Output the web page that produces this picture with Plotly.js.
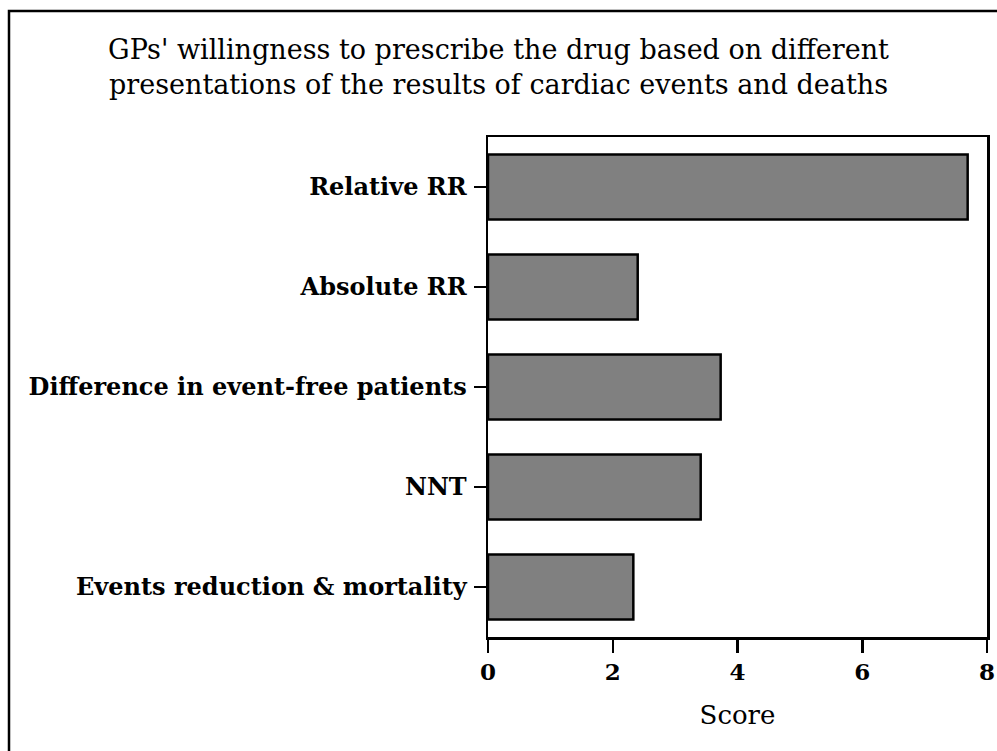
<!DOCTYPE html>
<html>
<head>
<meta charset="utf-8">
<script src="https://cdn.plot.ly/plotly-3.0.1.min.js"></script>
<style>
html,body{margin:0;padding:0;background:#fff;}
#chart{width:997px;height:751px;}
</style>
</head>
<body>
<div id="chart"></div>
<script>
const categories = ["Relative RR", "Absolute RR", "Difference in event-free patients", "NNT", "Events reduction & mortality"];
const scores = [7.69, 2.40, 3.73, 3.41, 2.33];
const xTickValues = [0, 2, 4, 6, 8];

const FONT = "'DejaVu Serif', 'Liberation Serif', serif";

const trace = {
  type: 'bar',
  orientation: 'h',
  y: categories,
  x: scores,
  width: 0.65,
  marker: {color: '#808080', line: {color: '#000000', width: 2.5}},
  hoverinfo: 'none'
};

const layout = {
  width: 997,
  height: 751,
  margin: {l: 488, r: 10, t: 137, b: 114},
  paper_bgcolor: '#ffffff',
  plot_bgcolor: '#ffffff',
  showlegend: false,
  font: {family: FONT, color: '#000000'},
  title: {
    text: "GPs' willingness to prescribe the drug based on different<br>presentations of the results of cardiac events and deaths",
    font: {family: FONT, size: 27, color: '#000000'},
    x: 0.5, xref: 'container', xanchor: 'center',
    y: 0.921, yref: 'container', yanchor: 'top'
  },
  xaxis: {
    range: [0, 8],
    tickvals: xTickValues,
    ticktext: xTickValues.map(String),
    showgrid: false,
    zeroline: false,
    showline: true,
    linecolor: '#000000',
    linewidth: 2.5,
    mirror: true,
    ticks: 'outside',
    ticklen: 13,
    tickwidth: 2.5,
    tickcolor: '#000000',
    tickfont: {family: FONT, size: 23, color: '#000000', weight: 'bold'},
    title: {text: 'Score', font: {family: FONT, size: 26, color: '#000000'}, standoff: 22}
  },
  yaxis: {
    type: 'category',
    categoryorder: 'array',
    categoryarray: categories,
    range: [4.5, -0.5],
    showgrid: false,
    zeroline: false,
    showline: true,
    linecolor: '#000000',
    linewidth: 2.5,
    mirror: true,
    ticks: 'outside',
    ticklen: 12,
    tickwidth: 2.5,
    tickcolor: '#000000',
    ticklabelstandoff: 2,
    tickfont: {family: FONT, size: 24, color: '#000000', weight: 'bold'}
  },
  shapes: [{
    type: 'rect', xref: 'paper', yref: 'paper',
    x0: (9 - 488) / 499, x1: (1010 - 488) / 499,
    y0: (637 - 770) / 500, y1: (637 - 11) / 500,
    line: {color: '#000000', width: 2.5},
    fillcolor: 'rgba(0,0,0,0)',
    layer: 'below'
  }]
};

Plotly.newPlot('chart', [trace], layout, {displayModeBar: false, staticPlot: true});
</script>
</body>
</html>
